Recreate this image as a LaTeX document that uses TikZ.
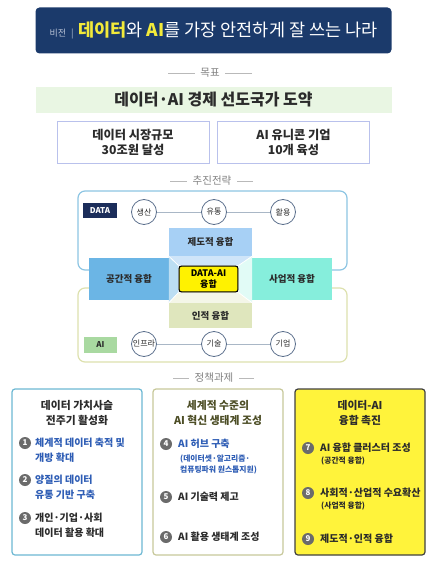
\documentclass[tikz,border=0pt]{standalone}
\usepackage{fontspec}
\setmainfont{Noto Sans CJK KR}
\usepackage{xcolor}
\usepackage{tikz}
\usetikzlibrary{positioning}

\definecolor{visionnavy}{HTML}{1B3A6B}
\definecolor{visionyellow}{HTML}{F2EA3A}
\definecolor{visiongray}{HTML}{B9C3D6}
\definecolor{aimgreen}{HTML}{E9F6E3}
\definecolor{goalline}{HTML}{B9C1EC}
\definecolor{dataline}{HTML}{8DC5E3}
\definecolor{ailine}{HTML}{DDE1AE}
\definecolor{datanavy}{HTML}{1B2D5A}
\definecolor{aigreen}{HTML}{A9D9A1}
\definecolor{ringline}{HTML}{5B6F8C}
\definecolor{chainline}{HTML}{A9B7C6}
\definecolor{jedoblue}{HTML}{A7D0F5}
\definecolor{gongganblue}{HTML}{6BB5E5}
\definecolor{saeopaqua}{HTML}{86EEDC}
\definecolor{injeokolive}{HTML}{DFE6BD}
\definecolor{coreyellow}{HTML}{FFF200}
\definecolor{taskblue}{HTML}{6DB8D3}
\definecolor{taskolive}{HTML}{C7C89A}
\definecolor{taskyellow}{HTML}{FFF33B}
\definecolor{itemblue}{HTML}{2E5DB5}
\definecolor{textdark}{HTML}{2B2B2B}
\definecolor{olivetext}{HTML}{4D4E26}
\definecolor{numgray}{HTML}{6B6B6B}

\tikzset{
  vision/.style={fill=visionnavy, rounded corners=4pt, minimum width=356pt, minimum height=46pt,
    text=white, font=\fontsize{17.5}{19}\selectfont},
  heading/.style={text=gray, font=\fontsize{10.5}{12}\selectfont, inner sep=5pt},
  headline/.style={draw=gray!55, line width=0.6pt},
  aim/.style={fill=aimgreen, minimum width=356pt, minimum height=26pt, text=textdark,
    font=\bfseries\fontsize{16}{18}\selectfont},
  goalbox/.style={draw=goalline, line width=1pt, fill=white, minimum width=152pt, minimum height=42pt,
    align=center, text=textdark, font=\bfseries\fontsize{12.2}{15}\selectfont},
  groupbox/.style={line width=1.2pt, fill=white, rounded corners=7pt, minimum width=269pt},
  tag/.style={inner sep=0, font=\bfseries\fontsize{8}{9}\selectfont},
  ring/.style={circle, draw=ringline, line width=0.8pt, fill=white, minimum size=25pt, inner sep=0,
    text=textdark, font=\fontsize{8}{9}\selectfont},
  chain/.style={draw=chainline, line width=0.7pt},
  fusion/.style={inner sep=0, text=textdark, font=\bfseries\fontsize{9.5}{11}\selectfont},
  core/.style={draw=black, line width=1.2pt, fill=coreyellow, rounded corners=2.5pt,
    minimum width=59pt, minimum height=26pt, inner sep=0, align=center,
    font=\bfseries\fontsize{9}{10.5}\selectfont},
  bevel/.style={draw=white, line width=0.8pt},
  taskbox/.style={line width=1.2pt, rounded corners=3pt, minimum width=130pt, minimum height=166pt},
  tasktitle/.style={align=center, inner sep=0, font=\bfseries\fontsize{10.8}{15}\selectfont},
  num/.style={circle, fill=numgray, minimum size=12pt, inner sep=0, text=white,
    font=\bfseries\fontsize{8}{8}\selectfont},
  item/.style={anchor=north west, inner sep=0, align=left, text=textdark,
    font=\bfseries\fontsize{10}{15}\selectfont},
  subitem/.style={anchor=north west, inner sep=0, align=left, text=textdark,
    font=\bfseries\fontsize{7.8}{11}\selectfont}
}

\begin{document}
\begin{tikzpicture}[x=1pt,y=-1pt]
\useasboundingbox (0,0) rectangle (433,561);

% vision
\node[vision] (vision) at (213.5,30.5) {{\color{visiongray}\fontsize{9}{10}\selectfont 비전}\hspace{5pt}{\color{visiongray}\fontsize{9}{10}\selectfont|}\hspace{5pt}{\bfseries\color{visionyellow}데이터}와 {\bfseries\color{visionyellow}AI}를 가장 안전하게 잘 쓰는 나라};

% goals
\node[heading] (mok) at (210,73) {목표};
\coordinate (mokL) at (168,73);
\coordinate (mokR) at (252,73);
\path[headline] (mokL) edge (mok) (mokR) edge (mok);
\node[aim] (aim) at (213.5,100) {데이터·AI 경제 선도국가 도약};
\node[goalbox] (goalA) at (133,142.5) {데이터 시장규모\\30조원 달성};
\node[goalbox] (goalB) at (293.5,142.5) {AI 유니콘 기업\\10개 육성};

% strategy
\node[heading] (jeon) at (212,181) {추진전략};
\coordinate (jeonL) at (170,181);
\coordinate (jeonR) at (253,181);
\path[headline] (jeonL) edge (jeon) (jeonR) edge (jeon);
\node[groupbox, draw=dataline, minimum height=79pt] (databox) at (212.5,230.5) {};
\node[groupbox, draw=ailine, minimum height=74pt] (aibox) at (212.5,325) {};
\node[tag, fill=datanavy, text=white, minimum width=34pt, minimum height=15pt] (datatag) at (100,210.5) {DATA};
\node[tag, fill=aigreen, text=textdark, minimum width=33pt, minimum height=16pt] (aitag) at (100.5,345) {AI};

\node[ring] (san) at (144,212) {생산};
\node[ring] (yu) at (214,212) {유통};
\node[ring] (hwal) at (283,212) {활용};
\node[ring] (infra) at (144,344) {인프라};
\node[ring] (gisul) at (214,344) {기술};
\node[ring] (gieop) at (283,344) {기업};
\path[chain]
  % data chain
  (san) edge (yu)
  (yu) edge (hwal)
  % ai chain
  (infra) edge (gisul)
  (gisul) edge (gieop);

\node[fusion, fill=jedoblue, minimum width=83pt, minimum height=28pt] (jedo) at (210.5,242) {제도적 융합};
\node[fusion, fill=gongganblue, minimum width=80pt, minimum height=42pt] (gonggan) at (129,279) {공간적 융합};
\node[fusion, fill=saeopaqua, minimum width=80pt, minimum height=42pt] (saeop) at (292,279) {사업적 융합};
\node[fusion, fill=injeokolive, minimum width=83pt, minimum height=25pt] (injeok) at (210.5,315.5) {인적 융합};
\fill[white] (jedo.south west) rectangle (injeok.north east);
\node[core] (core) at (208.5,279) {DATA-AI\\융합};
% bevel round the core
\fill[jedoblue!55] (jedo.south west) -- (jedo.south east) -- (core.north east) -- (core.north west) -- cycle;
\fill[gongganblue!45] (jedo.south west) -- (core.north west) -- (core.south west) -- (injeok.north west) -- cycle;
\fill[saeopaqua!25] (jedo.south east) -- (injeok.north east) -- (core.south east) -- (core.north east) -- cycle;
\fill[injeokolive!35] (injeok.north west) -- (core.south west) -- (core.south east) -- (injeok.north east) -- cycle;
\path[bevel]
  (jedo.south west) edge (core.north west)
  (jedo.south east) edge (core.north east)
  (injeok.north west) edge (core.south west)
  (injeok.north east) edge (core.south east);

% tasks
\node[heading] (jeong) at (214,378) {정책과제};
\coordinate (jeongL) at (173,378);
\coordinate (jeongR) at (254,378);
\path[headline] (jeongL) edge (jeong) (jeongR) edge (jeong);
\node[taskbox, draw=taskblue, fill=white] (taskA) at (77,472) {};
\node[taskbox, draw=taskolive, fill=white] (taskB) at (218,472) {};
\node[taskbox, draw=black!75, fill=taskyellow] (taskC) at (360,472) {};

\node[tasktitle, text=textdark] (titleA) at (77,412.5) {데이터 가치사슬\\전주기 활성화};
\node[tasktitle, text=olivetext] (titleB) at (218,412.5) {세계적 수준의\\AI 혁신 생태계 조성};
\node[tasktitle, text=textdark] (titleC) at (360,412.5) {데이터-AI\\융합 촉진};

\node[num] (n1) at (25,443) {1};
\node[item, text=itemblue] (t1) at (35,437.5) {체계적 데이터 축적 및\\개방 확대};
\node[num] (n2) at (25,480) {2};
\node[item, text=itemblue] (t2) at (35,474.5) {양질의 데이터\\유통 기반 구축};
\node[num] (n3) at (25,518) {3};
\node[item] (t3) at (35,512.5) {개인·기업·사회\\데이터 활용 확대};

\node[num] (n4) at (166,444) {4};
\node[item, text=itemblue] (t4) at (178,438.5) {AI 허브 구축};
\node[subitem, text=itemblue] (s4) at (180,455) {(데이터셋·알고리즘·\\컴퓨팅파워 원스톱지원)};
\node[num] (n5) at (166,497) {5};
\node[item] (t5) at (178,491.5) {AI 기술력 제고};
\node[num] (n6) at (166,537) {6};
\node[item] (t6) at (178,531.5) {AI 활용 생태계 조성};

\node[num] (n7) at (308,448) {7};
\node[item] (t7) at (320,442.5) {AI 융합 클러스터 조성};
\node[subitem] (s7) at (321,457) {(공간적 융합)};
\node[num] (n8) at (308,493) {8};
\node[item] (t8) at (320,487.5) {사회적·산업적 수요확산};
\node[subitem] (s8) at (321,502) {(사업적 융합)};
\node[num] (n9) at (308,539) {9};
\node[item] (t9) at (320,533.5) {제도적·인적 융합};
\end{tikzpicture}
\end{document}
